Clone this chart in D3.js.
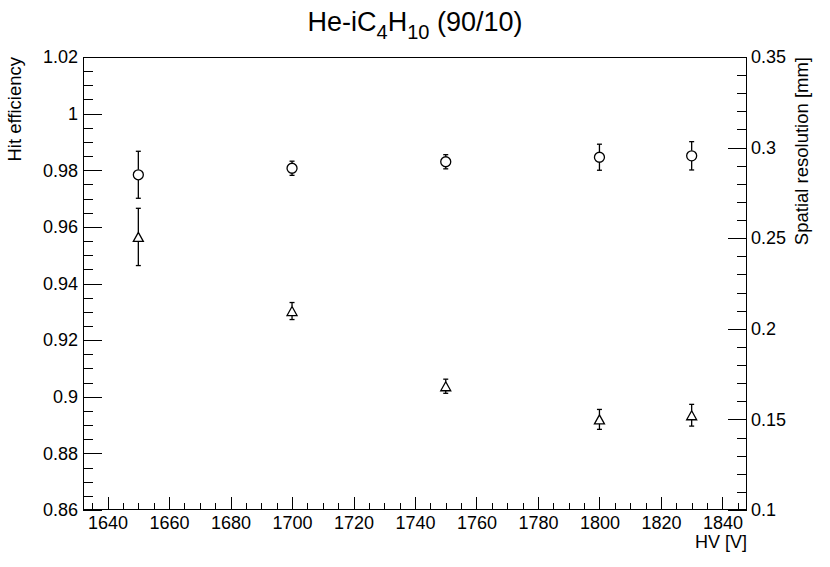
<!DOCTYPE html>
<html>
<head>
<meta charset="utf-8">
<script src="https://cdn.jsdelivr.net/npm/d3@7"></script>
<style>
  html, body { margin: 0; padding: 0; background: #fff; }
  svg { display: block; }
  text { font-family: "Liberation Sans", Arial, Helvetica, sans-serif; fill: #000; }
</style>
</head>
<body>
<svg id="chart" width="830" height="567"></svg>
<script>
// ---- data ----
const hv = [1650, 1700, 1750, 1800, 1830];
const efficiency = [0.9784, 0.9807, 0.9830, 0.9846, 0.9851];
const efficiencyErr = [0.0083, 0.0025, 0.0025, 0.0046, 0.0050];
const resolution = [0.2507, 0.2098, 0.1683, 0.1500, 0.1523];
const resolutionErr = [0.0158, 0.0047, 0.0039, 0.0055, 0.0060];

const xTicks = [1640, 1660, 1680, 1700, 1720, 1740, 1760, 1780, 1800, 1820, 1840];
const yLeftTicks = [0.86, 0.88, 0.9, 0.92, 0.94, 0.96, 0.98, 1, 1.02];
const yRightTicks = [0.1, 0.15, 0.2, 0.25, 0.3, 0.35];

// ---- layout ----
const L = 83, R = 747, T = 57, B = 510;
const svg = d3.select("#chart");

const x = d3.scaleLinear().domain([1632, 1848]).range([L, R]);
const yL = d3.scaleLinear().domain([0.86, 1.02]).range([B, T]);
const yR = d3.scaleLinear().domain([0.1, 0.35]).range([B, T]);

const xMinor = d3.range(1635, 1848, 5);
const yLMinor = d3.range(0, 33).map(i => +(0.86 + i * 0.005).toFixed(4));
const yRMinor = d3.range(0, 26).map(i => +(0.1 + i * 0.01).toFixed(3));

function styleAxis(g) {
  g.select(".domain").remove();
  g.selectAll("line").attr("stroke", "#000").attr("stroke-width", 1).attr("shape-rendering", "crispEdges");
  g.selectAll("text").attr("font-size", 18).attr("font-family", '"Liberation Sans", Arial, sans-serif').attr("fill", "#000");
}

// frame
svg.append("rect").attr("x", L + 0.5).attr("y", T + 0.5).attr("width", R - L - 1).attr("height", B - T - 1)
  .attr("fill", "none").attr("stroke", "#000").attr("stroke-width", 1).attr("shape-rendering", "crispEdges");

// bottom axis
svg.append("g").attr("transform", `translate(0,${B})`)
  .call(d3.axisBottom(x).tickValues(xMinor).tickSizeInner(-7).tickSizeOuter(0).tickFormat(""))
  .call(styleAxis);
svg.append("g").attr("transform", `translate(0,${B})`)
  .call(d3.axisBottom(x).tickValues(xTicks).tickSizeInner(-13).tickSizeOuter(0).tickPadding(6).tickFormat(d3.format("d")))
  .call(styleAxis);

// left axis
svg.append("g").attr("transform", `translate(${L},0)`)
  .call(d3.axisLeft(yL).tickValues(yLMinor).tickSizeInner(-10).tickSizeOuter(0).tickFormat(""))
  .call(styleAxis);
svg.append("g").attr("transform", `translate(${L},0)`)
  .call(d3.axisLeft(yL).tickValues(yLeftTicks).tickSizeInner(-19).tickSizeOuter(0).tickPadding(5).tickFormat(d => String(d)))
  .call(styleAxis);

// right axis
svg.append("g").attr("transform", `translate(${R},0)`)
  .call(d3.axisRight(yR).tickValues(yRMinor).tickSizeInner(-10).tickSizeOuter(0).tickFormat(""))
  .call(styleAxis);
svg.append("g").attr("transform", `translate(${R},0)`)
  .call(d3.axisRight(yR).tickValues(yRightTicks).tickSizeInner(-19).tickSizeOuter(0).tickPadding(4).tickFormat(d => String(d)))
  .call(styleAxis);

// titles
const title = svg.append("text").attr("x", 415).attr("y", 31).attr("text-anchor", "middle").attr("font-size", 27);
title.append("tspan").text("He-iC");
title.append("tspan").attr("font-size", 20).attr("dy", 8).text("4");
title.append("tspan").attr("dy", -8).text("H");
title.append("tspan").attr("font-size", 20).attr("dy", 8).text("10");
title.append("tspan").attr("dy", -8).text(" (90/10)");

svg.append("text").attr("transform", `translate(21,${T}) rotate(-90)`).attr("text-anchor", "end")
  .attr("font-size", 18.5).text("Hit efficiency");
svg.append("text").attr("transform", `translate(808,${T}) rotate(-90)`).attr("text-anchor", "end")
  .attr("font-size", 18.5).text("Spatial resolution [mm]");
svg.append("text").attr("x", R).attr("y", 548).attr("text-anchor", "end")
  .attr("font-size", 18).text("HV [V]");

// ---- data marks ----
const cap = 2.5;
function errorBars(g, xs, ys, es, yScale, gapTop, gapBot) {
  xs.forEach((xv, i) => {
    const cx = x(xv), cy = yScale(ys[i]);
    const yt = yScale(ys[i] + es[i]), yb = yScale(ys[i] - es[i]);
    if (yt < cy - gapTop) {
      g.append("line").attr("x1", cx).attr("x2", cx).attr("y1", yt).attr("y2", cy - gapTop);
    }
    if (yb > cy + gapBot) {
      g.append("line").attr("x1", cx).attr("x2", cx).attr("y1", cy + gapBot).attr("y2", yb);
    }
    g.append("line").attr("x1", cx - cap).attr("x2", cx + cap).attr("y1", yt).attr("y2", yt);
    g.append("line").attr("x1", cx - cap).attr("x2", cx + cap).attr("y1", yb).attr("y2", yb);
  });
}

const gEff = svg.append("g").attr("stroke", "#000").attr("stroke-width", 1.3).attr("fill", "none");
errorBars(gEff, hv, efficiency, efficiencyErr, yL, 5, 5);
gEff.selectAll("circle").data(hv).join("circle")
  .attr("cx", d => x(d)).attr("cy", (d, i) => yL(efficiency[i])).attr("r", 5).attr("fill", "#fff");

const gRes = svg.append("g").attr("stroke", "#000").attr("stroke-width", 1.3).attr("fill", "none");
errorBars(gRes, hv, resolution, resolutionErr, yR, 4.5, 4.5);
gRes.selectAll("path.tri").data(hv).join("path").attr("class", "tri")
  .attr("d", (d, i) => {
    const cx = x(d), cy = yR(resolution[i]);
    return `M${cx},${cy - 4.5}L${cx + 5},${cy + 4.5}L${cx - 5},${cy + 4.5}Z`;
  }).attr("fill", "#fff");
</script>
</body>
</html>
